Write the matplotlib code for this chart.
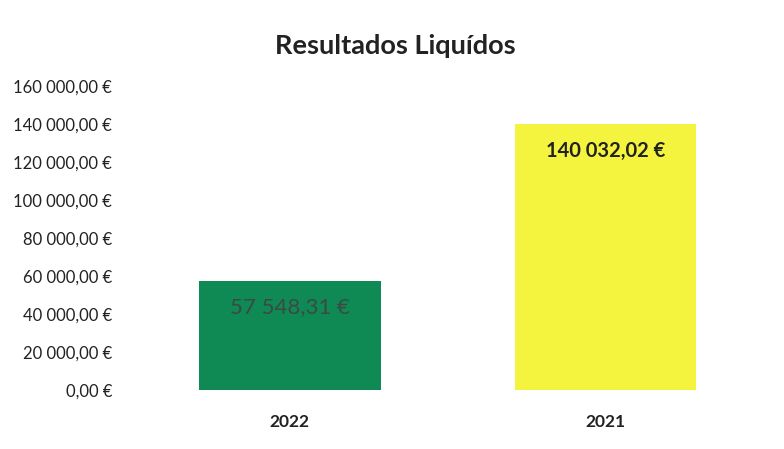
import matplotlib.pyplot as plt
from matplotlib.ticker import FuncFormatter

years = ['2022', '2021']
resultados = [57548.31, 140032.02]
labels = ['57 548,31 €', '140 032,02 €']
colors = ['#0f8a55', '#f4f43e']
label_colors = ['#3b4a44', '#222222']
label_weights = ['normal', 'bold']
yticks = [0, 20000, 40000, 60000, 80000, 100000, 120000, 140000, 160000]

plt.rcParams['font.family'] = ['Lato', 'DejaVu Sans']


def euro(v, pos):
    s = f'{v:,.2f}'.replace(',', ' ').replace('.', ',')
    return s + ' €'


fig = plt.figure(figsize=(7.84, 4.49), dpi=100)
ax = fig.add_axes([0.168, 0.131, 0.806, 0.677])

x = range(len(years))
ax.bar(x, resultados, width=0.575, color=colors)

sizes = [16, 14.5]
for i, v in enumerate(resultados):
    ax.annotate(labels[i], (i, v), xytext=(0, -19), textcoords='offset points',
                ha='center', va='center', fontsize=sizes[i],
                color=label_colors[i], fontweight=label_weights[i])

ax.set_xlim(-0.5, 1.5)
ax.set_ylim(0, 160000)
ax.set_yticks(yticks)
ax.yaxis.set_major_formatter(FuncFormatter(euro))
ax.set_xticks(list(x))
ax.set_xticklabels(years, fontweight='bold', fontsize=12.5, color='#222222')
ax.tick_params(axis='y', labelsize=12, colors='#222222', length=0, pad=14)
ax.tick_params(axis='x', length=0, pad=17)
for s in ax.spines.values():
    s.set_visible(False)

fig.suptitle('Resultados Liquídos', fontsize=19.5, fontweight='bold', color='#222222',
             x=0.504, y=0.925)

fig.savefig('out.png', dpi=100)
